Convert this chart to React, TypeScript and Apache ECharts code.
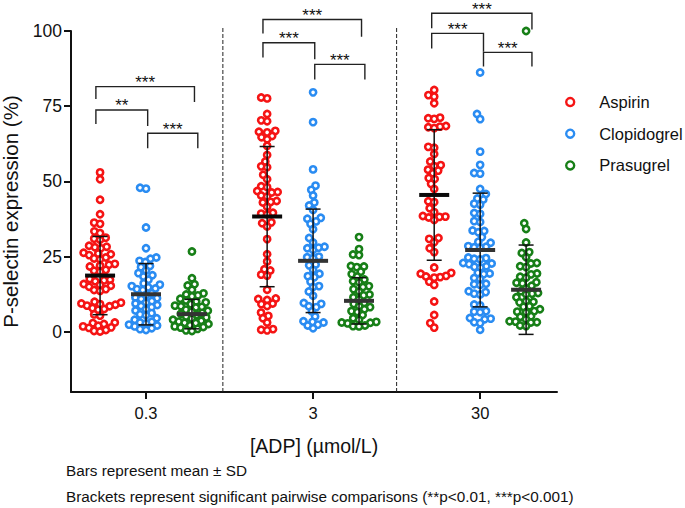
import { useEffect, useRef } from "react";
import * as echarts from "echarts";

const FONT = "'Liberation Sans', Arial, Helvetica, sans-serif";

// categories / labels
const xLabels = ["0.3", "3", "30"];
const drugs = ["Aspirin", "Clopidogrel", "Prasugrel"];
const colors = ["#f51414", "#2a8cf2", "#177f17"];
const yTicks = [0, 25, 50, 75, 100];

const aspirin03 = [53.0, 50.7, 43.9, 39.1, 36.3, 35.9, 33.4, 32.8, 31.3, 31.0, 30.6, 28.6, 28.3, 28.1, 27.8, 26.3, 26.0, 25.8, 25.5, 24.7, 24.4, 24.1, 22.6, 22.3, 22.0, 21.7, 20.6, 20.3, 20.0, 17.6, 17.3, 17.1, 16.8, 15.9, 15.6, 15.3, 15.0, 14.2, 13.9, 13.6, 10.0, 9.7, 9.4, 9.2, 9.0, 8.7, 8.5, 7.9, 7.6, 7.3, 5.8, 5.4, 3.1, 2.9, 2.6, 2.0, 1.8, 1.5, 1.3, 0.6, 0.3, 0.1];
const clopidogrel03 = [47.9, 47.6, 34.7, 27.8, 24.7, 24.3, 23.6, 23.2, 21.9, 21.5, 20.4, 19.5, 18.8, 18.4, 17.3, 16.1, 15.7, 15.2, 14.8, 14.4, 14.2, 13.9, 12.8, 12.2, 11.4, 11.2, 10.9, 10.2, 9.7, 9.4, 8.9, 8.6, 8.2, 7.5, 7.1, 6.2, 5.8, 5.5, 4.5, 4.0, 3.3, 3.1, 2.8, 2.4, 2.1, 1.8, 1.2, 0.9, 0.6];
const prasugrel03 = [26.7, 17.8, 15.8, 15.4, 14.0, 12.8, 12.4, 12.1, 11.8, 11.0, 10.4, 10.1, 9.8, 9.2, 8.7, 8.5, 8.3, 8.1, 7.4, 7.0, 6.7, 6.3, 6.0, 5.6, 5.1, 4.8, 4.4, 4.0, 3.7, 3.4, 3.0, 2.9, 2.6, 2.2, 1.8, 1.6, 1.4, 1.0, 0.5, 0.3];
const aspirin3 = [77.9, 77.6, 72.4, 70.3, 70.0, 66.8, 66.5, 66.3, 65.1, 64.7, 64.0, 61.8, 58.8, 56.6, 55.0, 54.7, 52.2, 50.7, 48.4, 48.1, 46.8, 46.5, 46.3, 45.3, 45.0, 43.5, 43.2, 43.0, 41.6, 39.6, 39.3, 39.1, 36.4, 36.1, 35.0, 30.8, 25.8, 23.4, 20.8, 20.4, 19.0, 18.7, 14.0, 11.1, 10.9, 10.6, 9.4, 9.2, 8.6, 6.4, 5.3, 4.5, 3.1, 0.9, 0.7, 0.5];
const clopidogrel3 = [79.6, 69.7, 54.0, 48.6, 47.2, 45.3, 43.0, 42.0, 40.5, 37.9, 37.6, 36.7, 35.9, 34.1, 31.2, 29.7, 28.3, 28.0, 27.8, 27.2, 25.0, 24.8, 24.5, 22.4, 22.1, 20.6, 19.3, 18.5, 18.2, 16.7, 15.2, 14.9, 13.4, 12.0, 9.6, 9.3, 8.5, 8.2, 6.8, 5.1, 3.5, 3.3, 3.1, 2.4, 2.1, 1.2];
const prasugrel3 = [31.5, 27.5, 25.7, 25.5, 21.9, 21.7, 21.5, 20.0, 19.2, 18.4, 17.4, 16.8, 16.5, 15.2, 14.9, 14.2, 13.4, 12.4, 12.1, 11.5, 10.8, 9.6, 9.3, 8.5, 8.2, 7.5, 6.9, 6.6, 5.6, 4.5, 4.0, 3.3, 3.1, 3.0, 2.8, 2.1, 1.9, 1.8];
const aspirin30 = [80.4, 78.7, 78.2, 76.0, 71.2, 71.0, 70.8, 68.4, 68.2, 68.0, 67.7, 61.5, 61.2, 59.1, 56.6, 55.4, 55.1, 53.9, 53.6, 52.7, 51.1, 50.8, 49.2, 47.5, 43.4, 43.1, 41.1, 39.8, 38.5, 38.3, 38.2, 38.0, 37.2, 31.2, 30.9, 29.8, 27.8, 26.5, 21.4, 19.6, 19.3, 18.6, 18.4, 18.2, 18.0, 16.7, 15.6, 10.1, 5.6, 2.9, 1.4];
const clopidogrel30 = [86.2, 72.4, 70.7, 59.9, 55.5, 52.8, 52.6, 47.5, 45.8, 44.3, 44.0, 42.6, 42.3, 39.5, 39.2, 36.8, 36.5, 33.7, 33.5, 33.1, 31.5, 29.9, 29.6, 28.5, 28.3, 28.1, 28.0, 24.7, 24.5, 24.3, 24.1, 22.9, 22.7, 22.5, 21.8, 21.6, 21.4, 19.6, 19.4, 19.2, 17.9, 17.6, 16.0, 15.8, 15.6, 13.5, 13.2, 12.7, 12.4, 9.1, 8.8, 6.9, 6.7, 6.5, 4.6, 4.4, 4.2, 3.2, 2.9, 0.7];
const prasugrel30 = [100.0, 36.1, 34.2, 29.7, 26.5, 26.2, 24.8, 22.9, 22.7, 21.8, 21.5, 19.4, 19.1, 18.3, 18.0, 16.5, 16.3, 16.1, 15.3, 14.5, 13.5, 12.9, 12.7, 12.5, 11.5, 10.2, 10.0, 9.8, 8.5, 8.3, 7.5, 6.9, 6.7, 6.5, 5.2, 5.0, 4.2, 3.5, 3.4, 3.2, 3.1, 2.1, 1.9];

// mean and SD
const aspirinMean = [18.7, 38.3, 45.5];
const aspirinSD = [13.0, 23.3, 21.7];
const clopidogrelMean = [12.5, 23.6, 27.2];
const clopidogrelSD = [10.2, 17.2, 18.9];
const prasugrelMean = [5.9, 10.3, 14.0];
const prasugrelSD = [4.9, 7.7, 14.85];

// significance brackets: [xLeft, xRight, yLine, yLeftEnd, yRightEnd, label]
const brackets: [number, number, number, number, number, string][] = [
  [-0.3, 0.29, 81.5, 77.4, 76.4, "***"],
  [-0.3, 0.01, 73.75, 69.1, 68.4, "**"],
  [0.01, 0.31, 66.0, 61.0, 61.0, "***"],
  [0.7, 1.29, 103.8, 99.2, 98.1, "***"],
  [0.7, 1.01, 96.1, 91.2, 90.6, "***"],
  [1.01, 1.31, 88.9, 83.9, 83.9, "***"],
  [1.71, 2.31, 105.9, 100.9, 100.5, "***"],
  [1.71, 2.02, 99.2, 94.2, 93.1, "***"],
  [2.02, 2.31, 92.9, 88.2, 88.2, "***"],
];
const separators = [0.46, 1.5];

const notes = [
  "Bars represent mean \u00b1 SD",
  "Brackets represent significant pairwise comparisons (**p<0.01, ***p<0.001)",
];

// layout constants
const W = 685;
const H = 508;
const GRID = { left: 71, right: 128, top: 31, bottom: 116 };
const X_MIN = -0.449;
const X_MAX = 2.46;
const Y_MIN = -20;
const Y_MAX = 100;
const OFFS = [-0.275, 0, 0.275];

function swarm(values: number[], center: number, dist: number): number[][] {
  const pxY = (H - GRID.top - GRID.bottom) / (Y_MAX - Y_MIN);
  const pxX = (W - GRID.left - GRID.right) / (X_MAX - X_MIN);
  const placed: { x: number; y: number }[] = [];
  const order = values.map((_, i) => i).sort((a, b) => values[a] - values[b]);
  const out: number[][] = new Array(values.length);
  const d2 = dist * dist;
  for (const i of order) {
    const y = values[i] * pxY;
    const cands = [0];
    for (const p of placed) {
      const dy = Math.abs(p.y - y);
      if (dy < dist) {
        const dx = Math.sqrt(d2 - dy * dy);
        cands.push(p.x + dx + 0.001, p.x - dx - 0.001);
      }
    }
    cands.sort((a, b) => Math.abs(a) - Math.abs(b) || a - b);
    let best = 0;
    for (const c of cands) {
      if (placed.every((p) => (p.x - c) ** 2 + (p.y - y) ** 2 >= d2 - 0.01)) {
        best = c;
        break;
      }
    }
    placed.push({ x: best, y });
    out[i] = [center + best / pxX, values[i]];
  }
  return out;
}

export default function App() {
  const ref = useRef<HTMLDivElement>(null);
  useEffect(() => {
    if (!ref.current) return;
    const chart = echarts.init(ref.current, undefined, { renderer: "svg" });
    const groupsByDrug = [
      [aspirin03, aspirin3, aspirin30],
      [clopidogrel03, clopidogrel3, clopidogrel30],
      [prasugrel03, prasugrel3, prasugrel30],
    ];
    const means = [aspirinMean, clopidogrelMean, prasugrelMean];
    const sds = [aspirinSD, clopidogrelSD, prasugrelSD];
    const DIST = 6.0;

    const scatterSeries = drugs.map((name, d) => ({
      type: "scatter",
      name,
      data: groupsByDrug[d].flatMap((vals, g) => swarm(vals, g + OFFS[d], DIST)),
      symbol: "circle",
      symbolSize: 6.2,
      itemStyle: { color: "#ffffff", borderColor: colors[d], borderWidth: 2.6, opacity: 1 },
      z: 2,
      silent: true,
    }));

    const errData: number[][] = [];
    for (let d = 0; d < 3; d++)
      for (let g = 0; g < 3; g++) errData.push([g + OFFS[d], means[d][g], sds[d][g], d]);

    const option: any = {
      animation: false,
      backgroundColor: "#ffffff",
      textStyle: { fontFamily: FONT },
      grid: { ...GRID, containLabel: false, outerBoundsMode: "none" },
      legend: {
        orient: "vertical",
        left: 565,
        top: 93,
        padding: 0,
        itemWidth: 8,
        itemHeight: 8,
        itemGap: 13.7,
        data: drugs.map((n, d) => ({
          name: n,
          icon: "circle",
          itemStyle: { color: "#ffffff", borderColor: colors[d], borderWidth: 2.4 },
        })),
        textStyle: { fontSize: 16.5, color: "#111", fontFamily: FONT, lineHeight: 18, padding: [0, 0, 0, 20] },
        selectedMode: false,
      },
      xAxis: {
        type: "value",
        min: X_MIN,
        max: X_MAX,
        name: "[ADP] (\u00b5mol/L)",
        nameLocation: "middle",
        nameGap: 44,
        nameTextStyle: { fontSize: 19.5, color: "#111", fontFamily: FONT },
        axisLine: { onZero: false, lineStyle: { color: "#111", width: 2 } },
        axisTick: { show: true, customValues: [0, 1, 2], length: 7, lineStyle: { color: "#111", width: 2 } },
        axisLabel: {
          customValues: [0, 1, 2],
          formatter: (v: number) => xLabels[Math.round(v)] ?? "",
          fontSize: 16.5,
          color: "#111",
          margin: 12,
          fontFamily: FONT,
        },
        splitLine: { show: false },
      },
      yAxis: {
        type: "value",
        min: Y_MIN,
        max: Y_MAX,
        name: "P-selectin expression (%)",
        nameLocation: "middle",
        nameGap: 50,
        nameTextStyle: { fontSize: 20.5, color: "#111", fontFamily: FONT },
        axisLine: { onZero: false, lineStyle: { color: "#111", width: 2 } },
        axisTick: { show: true, customValues: yTicks, length: 7, lineStyle: { color: "#111", width: 2 } },
        axisLabel: { customValues: yTicks, fontSize: 17.5, color: "#111", margin: 9, fontFamily: FONT },
        splitLine: { show: false },
      },
      graphic: notes.map((t, i) => ({
        type: "text",
        x: 66,
        y: 470 + i * 26.7,
        style: { text: t, fontSize: 15.3, fontFamily: FONT, fill: "#111", verticalAlign: "middle" },
      })),
      series: [
        {
          type: "custom",
          name: "separators",
          data: separators.map((x) => [x, Y_MIN]),
          z: 1,
          silent: true,
          renderItem: (_p: any, api: any) => {
            const a = api.coord([api.value(0), Y_MIN]);
            const b = api.coord([api.value(0), 101]);
            return {
              type: "line",
              shape: { x1: a[0], y1: a[1], x2: b[0], y2: b[1] },
              style: { stroke: "#222", lineWidth: 1, lineDash: [4, 2] },
            };
          },
        },
        ...scatterSeries,
        {
          type: "custom",
          name: "meanSD",
          data: errData,
          z: 5,
          silent: true,
          renderItem: (_p: any, api: any) => {
            const x = api.value(0);
            const m = api.value(1);
            const s = api.value(2);
            const d = api.value(3);
            const c = api.coord([x, m]);
            const t = api.coord([x, m + s]);
            const b = api.coord([x, m - s]);
            const ln = { stroke: "#111", lineWidth: 1.5 };
            return {
              type: "group",
              children: [
                { type: "line", shape: { x1: c[0], y1: t[1], x2: c[0], y2: b[1] }, style: ln },
                { type: "line", shape: { x1: c[0] - 7.5, y1: t[1], x2: c[0] + 7.5, y2: t[1] }, style: ln },
                { type: "line", shape: { x1: c[0] - 7.5, y1: b[1], x2: c[0] + 7.5, y2: b[1] }, style: ln },
                {
                  type: "rect",
                  shape: { x: c[0] - 15, y: c[1] - 2, width: 30, height: 4 },
                  style: { fill: d === 0 ? "#0a0a0a" : "#333333" },
                },
              ],
            };
          },
        },
        {
          type: "custom",
          name: "brackets",
          data: brackets.map((b, i) => [b[0], b[2], b[1], b[3], b[4], i]),
          z: 6,
          silent: true,
          clip: false,
          renderItem: (p: any, api: any) => {
            const br = brackets[p.dataIndex];
            const p1 = api.coord([br[0], br[3]]);
            const p2 = api.coord([br[0], br[2]]);
            const p3 = api.coord([br[1], br[2]]);
            const p4 = api.coord([br[1], br[4]]);
            return {
              type: "group",
              children: [
                {
                  type: "polyline",
                  shape: { points: [p1, p2, p3, p4] },
                  style: { stroke: "#222", lineWidth: 1.4, fill: null },
                },
                {
                  type: "text",
                  x: (p2[0] + p3[0]) / 2,
                  y: p2[1] - 4,
                  style: {
                    text: br[5],
                    fontSize: 17,
                    fontFamily: FONT,
                    fill: "#111",
                    align: "center",
                    verticalAlign: "middle",
                  },
                },
              ],
            };
          },
        },
      ],
    };
    chart.setOption(option);
    return () => chart.dispose();
  }, []);
  return (
    <div
      ref={ref}
      style={{ position: "fixed", left: 0, top: 0, width: W, height: H, background: "#fff" }}
    />
  );
}
